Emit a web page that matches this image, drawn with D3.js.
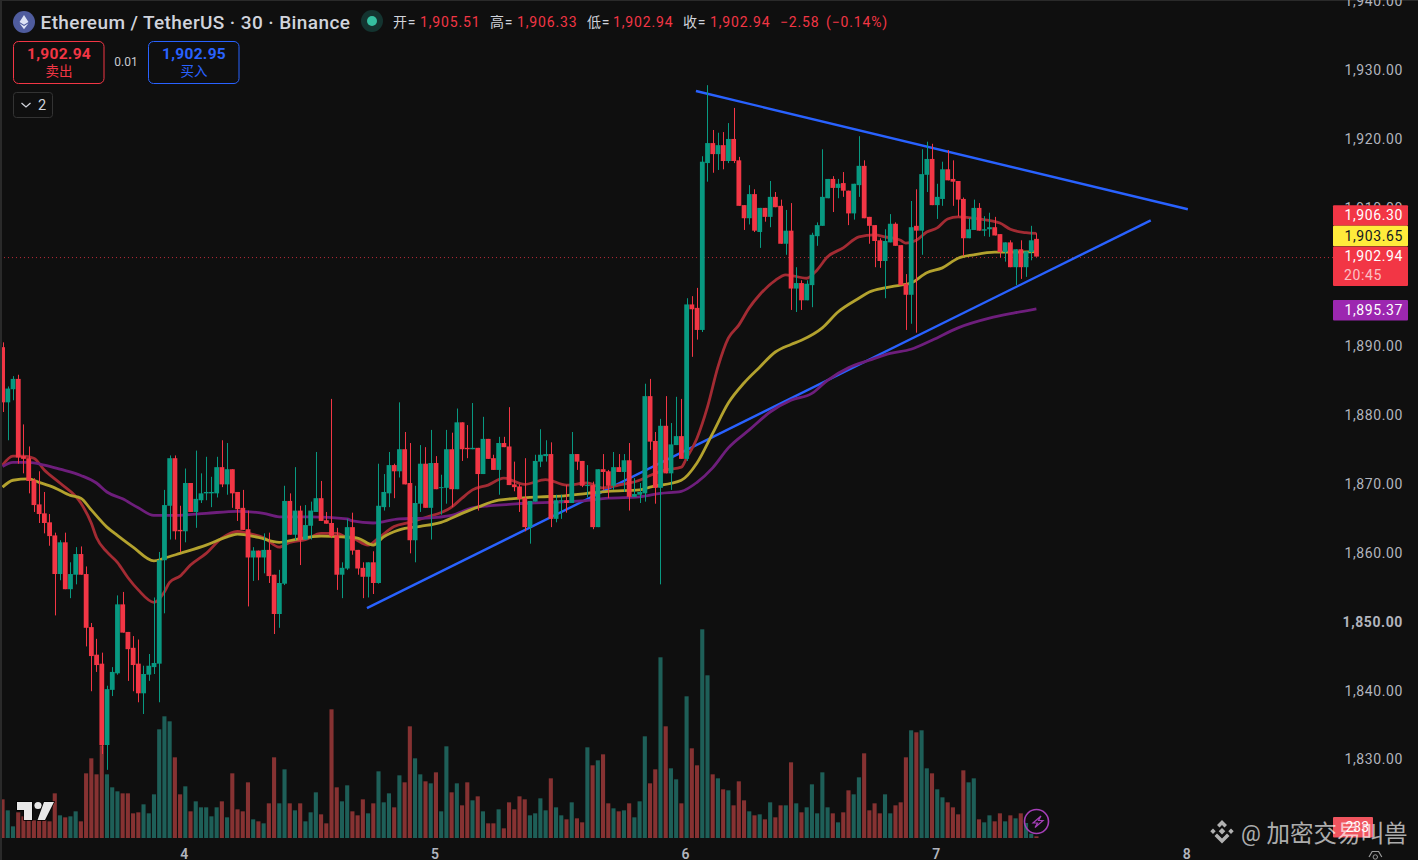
<!DOCTYPE html>
<html><head><meta charset="utf-8">
<script src="https://cdnjs.cloudflare.com/ajax/libs/d3/7.8.5/d3.min.js"></script>
<style>
html,body{margin:0;padding:0;background:#0f0f0f;overflow:hidden}
svg{display:block}
text{font-family:Roboto,"Noto Sans CJK SC",sans-serif}
</style></head><body><svg id="c" width="1418" height="860"></svg>
<script>
const opens=[1889.8,1881.8,1883.7,1885.2,1874.0,1873.7,1870.5,1867.0,1865.7,1864.4,
1862.5,1856.9,1861.5,1854.7,1856.8,1859.8,1856.9,1849.2,1845.2,1843.9,
1832.1,1840.1,1842.5,1852.5,1848.5,1846.2,1843.9,1839.6,1842.3,1843.4,
1843.9,1858.9,1866.8,1873.7,1863.3,1863.1,1870.1,1865.9,1867.6,1868.6,
1868.6,1868.6,1872.4,1869.9,1872.1,1868.8,1866.5,1863.4,1859.3,1860.3,
1859.3,1860.4,1856.8,1851.1,1855.5,1867.5,1862.6,1866.1,1861.9,1863.9,
1865.9,1867.9,1864.7,1864.3,1862.5,1856.8,1857.7,1863.7,1860.4,1857.8,
1856.5,1858.6,1855.6,1866.6,1868.6,1872.7,1871.8,1875.0,1870.1,1861.8,
1867.1,1872.9,1866.5,1873.0,1869.4,1869.4,1875.0,1869.2,1878.9,1875.2,
1875.0,1875.2,1871.4,1876.5,1873.7,1872.0,1875.9,1875.4,1869.9,1869.6,
1867.9,1863.7,1867.4,1873.2,1874.0,1874.3,1864.9,1867.5,1867.6,1867.2,
1874.3,1873.3,1869.7,1869.8,1863.7,1872.1,1871.8,1869.7,1872.4,1871.7,
1873.4,1868.1,1868.4,1868.6,1882.7,1876.2,1869.4,1878.4,1871.5,1875.6,
1876.9,1873.6,1896.0,1895.5,1892.3,1916.5,1919.4,1917.8,1919.1,1916.8,
1920.0,1916.9,1910.4,1908.5,1912.0,1906.5,1910.0,1908.7,1911.6,1910.3,
1904.8,1906.7,1898.3,1899.1,1896.6,1898.8,1905.9,1907.4,1911.4,1914.2,
1912.9,1913.6,1912.5,1909.2,1913.3,1916.1,1908.7,1907.5,1905.3,1902.3,
1905.0,1907.7,1904.6,1899.0,1897.4,1907.4,1906.7,1914.8,1917.1,1910.4,
1911.3,1915.6,1914.2,1913.9,1911.3,1905.6,1906.8,1910.0,1906.7,1906.9,
1907.2,1906.2,1903.6,1905.0,1901.4,1904.0,1901.4,1903.6,1905.51];
const closes=[1881.8,1883.8,1885.2,1873.8,1873.6,1870.4,1866.9,1865.6,1864.3,1862.4,
1856.9,1861.5,1854.7,1856.9,1859.8,1856.8,1849.1,1845.0,1843.7,1832.1,
1840.2,1842.7,1852.5,1848.4,1846.0,1843.7,1839.6,1842.4,1843.6,1844.0,
1858.9,1866.9,1873.7,1863.1,1863.1,1870.1,1865.9,1867.8,1868.6,1868.8,
1868.8,1872.4,1869.9,1872.1,1868.6,1866.3,1863.3,1859.3,1860.3,1859.3,
1860.4,1856.6,1851.1,1855.6,1867.5,1862.6,1866.1,1861.8,1864.0,1866.1,
1867.9,1864.6,1864.2,1862.4,1856.8,1857.8,1863.7,1860.3,1857.7,1856.5,
1858.6,1855.6,1866.8,1868.8,1872.7,1871.8,1875.0,1869.9,1861.8,1867.2,
1872.9,1866.5,1873.0,1869.2,1869.5,1875.0,1869.2,1878.9,1875.0,1875.0,
1875.2,1871.4,1876.5,1873.6,1872.0,1875.9,1875.3,1869.8,1869.5,1867.8,
1863.7,1867.5,1873.3,1874.2,1874.3,1864.9,1867.6,1867.6,1867.2,1874.3,
1873.2,1869.7,1869.8,1863.7,1872.1,1871.7,1869.7,1872.4,1871.7,1873.4,
1868.1,1868.5,1868.8,1882.7,1876.1,1869.4,1878.4,1871.5,1875.7,1876.9,
1873.6,1896.0,1895.3,1892.3,1916.7,1919.4,1917.8,1919.1,1916.8,1920.0,
1916.8,1910.3,1908.5,1912.0,1906.7,1910.0,1908.7,1911.6,1910.1,1904.8,
1906.7,1898.3,1899.1,1896.6,1899.0,1906.1,1907.5,1911.6,1914.2,1912.9,
1913.5,1912.5,1909.2,1913.5,1916.1,1908.5,1907.4,1905.2,1902.3,1905.2,
1907.7,1904.5,1898.8,1897.4,1907.2,1906.7,1914.9,1917.1,1910.4,1911.6,
1915.6,1914.0,1913.8,1911.2,1905.6,1906.9,1910.0,1906.7,1906.9,1907.2,
1906.0,1903.6,1905.0,1901.4,1904.0,1901.4,1903.7,1905.3,1902.94];
const highs=[1890.5,1884.1,1885.6,1885.8,1878.6,1875.4,1870.8,1871.8,1868.8,1865.6,
1862.9,1861.8,1862.9,1858.6,1860.8,1860.9,1858.0,1849.8,1847.5,1845.5,
1840.7,1843.4,1853.8,1854.3,1848.5,1847.9,1847.4,1843.6,1845.3,1853.5,
1860.1,1869.1,1874.1,1874.1,1866.8,1872.2,1870.1,1874.8,1871.5,1873.9,
1871.0,1873.9,1876.3,1875.9,1872.1,1868.8,1869.1,1866.1,1860.8,1860.3,
1862.8,1862.9,1856.8,1857.5,1869.7,1868.6,1872.4,1866.8,1866.9,1867.4,
1874.6,1870.4,1865.9,1882.3,1863.6,1858.6,1864.9,1865.8,1860.4,1858.6,
1858.6,1860.2,1872.9,1871.4,1874.6,1872.9,1881.8,1877.5,1875.9,1869.7,
1875.6,1875.3,1877.8,1874.0,1871.3,1877.8,1877.4,1880.9,1878.9,1878.5,
1881.7,1875.2,1879.7,1876.5,1874.2,1876.8,1876.8,1881.1,1873.2,1869.9,
1873.7,1867.5,1874.2,1877.9,1876.3,1876.0,1868.4,1868.4,1869.8,1877.5,
1874.3,1873.3,1872.7,1870.3,1872.1,1874.3,1872.0,1874.6,1874.3,1874.3,
1875.9,1870.8,1870.1,1884.5,1885.2,1877.5,1879.4,1882.7,1878.8,1882.6,
1882.3,1896.9,1897.2,1898.4,1917.5,1927.8,1921.3,1920.9,1921.0,1922.3,
1924.5,1917.4,1910.4,1913.3,1912.7,1910.0,1910.0,1913.9,1912.3,1911.2,
1909.7,1910.7,1901.4,1899.5,1899.5,1906.4,1907.9,1918.5,1914.2,1914.6,
1914.2,1915.2,1912.5,1913.5,1920.4,1916.9,1908.7,1907.5,1905.6,1906.9,
1909.1,1907.9,1904.6,1900.4,1911.0,1912.7,1918.5,1919.6,1919.3,1913.5,
1916.7,1918.4,1916.9,1913.9,1911.5,1908.5,1911.2,1910.7,1908.8,1909.3,
1908.7,1906.2,1905.0,1905.3,1904.0,1905.3,1903.7,1907.4,1906.33];
const lows=[1880.4,1876.3,1882.1,1872.9,1871.5,1868.6,1865.9,1864.3,1862.8,1861.0,
1850.9,1856.0,1854.7,1853.4,1855.4,1856.8,1846.4,1839.9,1842.7,1830.8,
1828.5,1839.2,1842.3,1848.4,1841.4,1839.9,1838.3,1836.6,1841.4,1842.4,
1838.3,1851.2,1861.9,1861.9,1860.1,1861.5,1865.9,1863.6,1867.2,1867.6,
1866.6,1868.0,1869.5,1868.4,1866.5,1864.6,1863.3,1852.2,1855.9,1856.0,
1857.0,1855.6,1848.2,1849.1,1855.3,1862.6,1861.8,1858.2,1861.9,1861.9,
1865.9,1864.6,1864.2,1862.1,1854.6,1853.4,1857.5,1859.7,1856.8,1853.4,
1853.5,1854.0,1855.5,1866.1,1866.6,1867.9,1870.9,1869.9,1859.9,1858.6,
1865.9,1866.5,1861.9,1869.2,1865.5,1867.1,1866.6,1869.2,1873.3,1873.7,
1875.0,1866.1,1871.4,1873.6,1872.0,1868.4,1875.3,1869.8,1868.9,1865.9,
1863.1,1861.3,1867.4,1872.4,1873.2,1863.7,1864.4,1864.9,1865.8,1867.2,
1872.0,1869.5,1868.0,1863.4,1863.7,1869.1,1867.9,1869.1,1871.7,1868.8,
1866.1,1868.1,1867.2,1867.4,1874.9,1867.1,1855.4,1871.5,1869.1,1875.6,
1873.6,1873.3,1888.4,1890.9,1892.0,1913.8,1915.1,1915.5,1915.6,1916.5,
1916.5,1910.3,1906.8,1907.6,1906.5,1904.2,1908.0,1907.2,1910.1,1904.8,
1903.2,1895.2,1894.9,1895.2,1896.6,1895.6,1904.5,1907.4,1911.4,1909.4,
1911.4,1911.6,1907.5,1908.3,1911.6,1908.5,1904.8,1901.4,1901.3,1896.9,
1905.0,1904.5,1898.8,1892.3,1893.2,1891.9,1903.2,1912.3,1910.4,1908.4,
1910.3,1914.0,1910.3,1908.8,1903.0,1905.6,1906.8,1906.7,1905.9,1905.8,
1906.0,1902.8,1902.2,1901.4,1898.8,1899.7,1900.0,1902.4,1902.94];
const volumes=[116,83,35,77,65,53,53,53,53,50,134,68,62,65,80,50,194,239,191,278,
191,152,140,134,134,74,77,101,74,131,326,365,350,242,131,155,80,110,92,92,
65,92,110,62,194,86,80,167,56,50,44,104,242,104,206,104,83,104,50,77,
137,71,44,386,152,110,158,80,68,116,74,104,200,107,134,92,188,167,335,239,
191,170,164,197,80,275,137,164,98,167,113,125,80,44,44,86,29,107,86,125,
116,68,74,119,83,179,92,68,56,107,59,47,272,218,233,251,104,89,80,83,
104,62,110,305,164,206,542,335,209,176,104,425,269,218,626,488,191,179,146,143,
98,170,113,80,68,71,56,107,62,98,98,227,104,77,92,161,74,197,92,74,
47,77,143,131,182,254,83,104,74,131,74,98,107,242,323,317,323,209,194,146,
122,107,92,71,203,167,179,56,47,68,50,74,50,68,59,74,45,13,5];

const fastIdx=[0,2,4,6,8,11,15,17,18,20,22,24,26,29,31,32,34,36,39,42,45,47,50,53,55,58,61,64,66,67,70,72,75,78,81,86,88,90,93,96,100,104,108,112,115,118,122,124,127,130,131,133,135,137,139,141,143,145,148,150,154,156,158,161,164,167,169,172,173,175,177,179,181,183,187,191,193,196,198];
const fastMA=[1872.7,1874.0,1874.0,1873.7,1872.0,1870.1,1867.2,1864.3,1862.2,1860.1,1858.6,1856.4,1854.6,1852.8,1854.3,1855.7,1856.6,1858.2,1859.9,1862.1,1863.1,1862.8,1862.2,1860.8,1861.5,1861.9,1862.8,1862.8,1862.2,1862.1,1861.1,1862.1,1863.8,1864.4,1865.1,1866.6,1867.9,1869.1,1869.8,1870.8,1869.9,1870.6,1869.8,1870.1,1869.4,1869.8,1870.5,1871.2,1872.0,1872.4,1873.7,1876.6,1881.1,1886.9,1891.1,1893.0,1895.5,1897.4,1899.5,1900.3,1899.8,1901.0,1902.9,1904.2,1905.8,1906.1,1905.8,1905.3,1904.9,1905.3,1906.5,1907.1,1908.4,1908.7,1908.4,1907.8,1906.9,1906.4,1906.30];
const midIdx=[0,2,5,7,10,13,15,17,20,22,25,29,31,34,39,43,45,49,53,56,61,65,68,71,73,76,80,84,88,91,95,99,103,107,112,116,122,124,130,133,136,139,142,145,148,151,153,157,160,164,166,169,172,174,177,180,183,186,190,194,198];
const midMA=[1869.5,1870.5,1870.7,1870.2,1869.4,1868.3,1867.9,1866.2,1863.7,1862.5,1860.8,1858.8,1859.2,1859.9,1861.1,1862.3,1862.7,1862.2,1861.5,1861.9,1862.4,1862.3,1862.1,1861.1,1862.3,1863.3,1863.8,1864.4,1865.7,1866.6,1867.6,1867.9,1868.1,1868.2,1868.6,1868.9,1869.1,1869.5,1870.5,1873.0,1877.3,1881.7,1884.6,1886.9,1889.1,1890.2,1890.8,1892.6,1894.9,1896.9,1897.8,1898.4,1898.8,1899.1,1900.6,1901.3,1902.7,1903.2,1903.6,1903.6,1903.65];
const slowIdx=[0,2,5,8,11,15,18,20,23,26,29,33,39,45,50,53,59,66,67,71,76,81,86,90,93,97,101,105,111,116,122,126,130,133,136,139,143,147,151,155,158,162,166,170,174,178,183,189,194,198];
const slowMA=[1872.5,1873.1,1873.1,1872.7,1872.1,1871.2,1870.1,1868.8,1867.8,1866.5,1865.4,1865.4,1865.7,1866.0,1865.7,1865.2,1865.2,1864.9,1864.6,1864.3,1864.9,1865.0,1865.4,1866.5,1866.8,1867.0,1867.2,1867.3,1867.5,1867.9,1868.1,1868.6,1868.9,1870.2,1872.3,1875.2,1877.8,1880.4,1882.1,1883.1,1885.0,1886.8,1887.9,1888.9,1889.5,1890.8,1892.6,1894.0,1894.8,1895.37];

const upperTrendIdx=[132.8,227.0], upperTrendPrice=[1926.95,1909.8];
const lowerTrendIdx=[69.8,219.9], lowerTrendPrice=[1851.95,1908.2];

const priceTicks=[1830,1840,1850,1860,1870,1880,1890,1900,1910,1920,1930,1940];
const dayTickIdx=[35,83,131,179,227], dayTickLabels=["4","5","6","7","8"];
const priceTags=[{v:"1,906.30",mid:215.5,bg:"#F23645",fg:"#fff"},{v:"1,903.65",mid:236,bg:"#FFEB3B",fg:"#131722"},{v:"1,895.37",mid:310.3,bg:"#9C27B0",fg:"#fff"}];
const lastPrice=1902.94, countdown="20:45", volTag="233";
const ohlcBits=[["开=",393,"#D1D4DC"],["1,905.51",420,"#F23645"],["高=",490,"#D1D4DC"],["1,906.33",517,"#F23645"],["低=",587,"#D1D4DC"],["1,902.94",613,"#F23645"],["收=",683,"#D1D4DC"],["1,902.94",710,"#F23645"],["−2.58",780,"#F23645"],["(−0.14%)",826,"#F23645"]];

const UP="#089981",DOWN="#F23645",VUP="#1E5F58",VDN="#863232";
const svg=d3.select("#c");
const x=d3.scaleLinear().domain([0,198]).range([2.5,1036.4]);
const y=d3.scaleLinear().domain([1830,1930]).range([759.5,70]);
const vol=d3.scaleLinear().domain([0,626]).range([838,629.3]);
const bars=d3.range(opens.length);
const isUp=i=>closes[i]>=opens[i];

// volume
svg.append("g").selectAll("rect").data(bars).join("rect")
 .attr("x",i=>x(i)-2).attr("width",4.1)
 .attr("y",i=>vol(volumes[i])).attr("height",i=>vol(0)-vol(volumes[i]))
 .attr("fill",i=>isUp(i)?VUP:VDN);

// last price dotted line
svg.append("line").attr("x1",0).attr("x2",1333).attr("y1",y(lastPrice)+1).attr("y2",y(lastPrice)+1)
 .attr("stroke","#F23645").attr("stroke-opacity",.75).attr("stroke-dasharray","1 3");

// trend lines + MA
const tl=(a,b)=>svg.append("path").attr("fill","none").attr("stroke","#2962FF").attr("stroke-width",2.4)
 .attr("d",d3.line()(a.map((d,k)=>[x(d),y(b[k])])));
tl(upperTrendIdx,upperTrendPrice); tl(lowerTrendIdx,lowerTrendPrice);
const ma=(a,b,c)=>svg.append("path").attr("fill","none").attr("stroke",c).attr("stroke-width",2.8)
 .attr("stroke-linejoin","round")
 .attr("d",d3.line().x(d=>x(d[0])).y(d=>y(d[1])).curve(d3.curveMonotoneX)(a.map((d,k)=>[d,b[k]])));
ma(fastIdx,fastMA,"#A32B33"); ma(slowIdx,slowMA,"#6E1E7C"); ma(midIdx,midMA,"#B3A22E");

// candles
const cg=svg.append("g");
cg.selectAll("line").data(bars).join("line")
 .attr("x1",i=>Math.round(x(i))+.5).attr("x2",i=>Math.round(x(i))+.5)
 .attr("y1",i=>y(highs[i])).attr("y2",i=>y(lows[i]))
 .attr("stroke",i=>isUp(i)?UP:DOWN).attr("stroke-width",1);
cg.selectAll("rect").data(bars).join("rect")
 .attr("x",i=>x(i)-2.3).attr("width",4.8)
 .attr("y",i=>y(Math.max(opens[i],closes[i])))
 .attr("height",i=>Math.max(1,Math.abs(y(opens[i])-y(closes[i]))))
 .attr("fill",i=>isUp(i)?UP:DOWN);

// borders
svg.append("rect").attr("width",2).attr("height",860).attr("fill","#2a2a2a");
svg.append("rect").attr("width",1418).attr("height",1).attr("fill","#2a2a2a");

// axes
const ay=svg.append("g").attr("transform","translate(1403,0)")
 .call(d3.axisLeft(y).tickValues(priceTicks).tickFormat(d3.format(",.2f")).tickSize(0));
ay.select(".domain").remove();
ay.selectAll("text").attr("x",0).attr("font-size",14).attr("letter-spacing",.6).attr("fill","#B2B5BE")
 .attr("font-weight",d=>d===1850?700:400).style("font-family","Roboto");
const ax=svg.append("g").attr("transform","translate(-1.5,845)")
 .call(d3.axisBottom(x).tickValues(dayTickIdx).tickFormat((d,k)=>dayTickLabels[k]).tickSize(0));
ax.select(".domain").remove();
ax.selectAll("text").attr("y",0).attr("dy",14).attr("font-size",14).attr("font-weight",600).attr("fill","#B2B5BE").style("font-family","Roboto");

// tags
function tag(yTop,h,w,bg){svg.append("rect").attr("x",1333).attr("y",yTop).attr("width",w).attr("height",h).attr("rx",1).attr("fill",bg);}
function tagText(t,yMid,fg,op){svg.append("text").attr("x",1403).attr("y",yMid).attr("dy",".35em").attr("text-anchor","end").attr("font-size",14).attr("letter-spacing",.6).attr("fill",fg).attr("fill-opacity",op||1).text(t);}
priceTags.forEach(t=>{tag(t.mid-10.3,20.6,75,t.bg);tagText(t.v,t.mid,t.fg);});
tag(246.5,39.5,75,DOWN);
tagText(d3.format(",.2f")(lastPrice),y(lastPrice),"#fff");
svg.append("text").attr("x",1344).attr("y",275).attr("dy",".35em").attr("font-size",14).attr("letter-spacing",.6).attr("fill","#fff").attr("fill-opacity",.7).text(countdown);
tag(817,20.5,40,"#F0555F");
svg.append("text").attr("x",1369).attr("y",832).attr("text-anchor","end").attr("font-size",14).attr("fill","#fff").text(volTag);

// header
svg.append("circle").attr("cx",24).attr("cy",22).attr("r",11).attr("fill","#4F5C9E");
svg.append("path").attr("d","M24 15l4.5 7-4.5 2.8-4.5-2.8zM24 26l4.5-2.8-4.5 6-4.5-6z").attr("fill","#DDE3F5");
svg.append("text").attr("x",40.5).attr("y",28.5).attr("font-size",19).attr("font-weight",500).attr("letter-spacing",.4).attr("fill","#D1D4DC").text("Ethereum / TetherUS · 30 · Binance");
svg.append("circle").attr("cx",372).attr("cy",21).attr("r",11).attr("fill","#143430");
svg.append("circle").attr("cx",372).attr("cy",21).attr("r",5).attr("fill","#35BFA0");
ohlcBits.forEach(b=>svg.append("text").attr("x",b[1]).attr("y",27).attr("font-size",14).attr("letter-spacing",.85).attr("fill",b[2]).text(b[0]));

function box(x0,col,price,label){
 svg.append("rect").attr("x",x0+.5).attr("y",41.5).attr("width",90.5).attr("height",42).attr("rx",5).attr("fill","#0f0f0f").attr("stroke",col);
 svg.append("text").attr("x",x0+46).attr("y",59).attr("text-anchor","middle").attr("font-size",15.5).attr("font-weight",700).attr("letter-spacing",.3).attr("fill",col).text(price);
 svg.append("text").attr("x",x0+46).attr("y",76).attr("text-anchor","middle").attr("font-size",13.5).attr("fill",col).text(label);
}
box(13,"#F23645","1,902.94","卖出");
box(148,"#2962FF","1,902.95","买入");
svg.append("text").attr("x",126).attr("y",65.5).attr("text-anchor","middle").attr("font-size",12).attr("fill","#C8CAD0").text("0.01");
svg.append("rect").attr("x",13.5).attr("y",92.5).attr("width",39).attr("height",25).attr("rx",3).attr("fill","none").attr("stroke","#333");
svg.append("path").attr("d","M21.5 103l4.5 4 4.5-4").attr("fill","none").attr("stroke","#D1D4DC").attr("stroke-width",1.3);
svg.append("text").attr("x",38).attr("y",110).attr("font-size",14.5).attr("fill","#D1D4DC").text("2");

// TradingView mark
const logo=svg.append("g").attr("fill","#E8E8E8").attr("stroke","#000").attr("stroke-width",1.4).attr("paint-order","stroke");
logo.append("path").attr("d","M17 802H32V820H24V810H17Z");
logo.append("circle").attr("cx",38).attr("cy",805.5).attr("r",3.6).attr("stroke","none");
logo.append("path").attr("d","M44 802H54L45 820H37.5Z");

// lightning circle
svg.append("circle").attr("cx",1036.5).attr("cy",821.5).attr("r",12).attr("fill","none").attr("stroke","#A63FB8").attr("stroke-width",1.6);
svg.append("path").attr("d","M1041 816l-8 7h4.5l-2.5 4.5 8-7h-4.5z").attr("fill","none").attr("stroke","#A63FB8").attr("stroke-width",1.2);

// settings hexagon
svg.append("path").attr("d","M1369 857l3.2-5.5h6.4l3.2 5.5").attr("fill","none").attr("stroke","#9a9a9a").attr("stroke-width",1.2);
svg.append("circle").attr("cx",1375.3).attr("cy",857).attr("r",2.2).attr("fill","none").attr("stroke","#9a9a9a");

// watermark
const wm=svg.append("g").attr("fill","#fff").attr("fill-opacity",.68);
wm.append("path").attr("d","M1222 820l5 5-2.5 2.5-2.5-2.5-2.5 2.5-2.5-2.5zM1213 828.5l2.7 2.7-2.7 2.7-2.7-2.7zM1231 828.5l2.7 2.7-2.7 2.7-2.7-2.7zM1222 828l3.3 3.3-3.3 3.3-3.3-3.3zM1214.5 836l2.5-2.5 5 5 5-5 2.5 2.5-7.5 7.5z");
wm.append("text").attr("x",1241).attr("y",841).attr("font-size",22).text("@");
wm.append("text").attr("x",1266.5).attr("y",842).attr("font-size",23.5).style("font-family","'Noto Sans CJK SC'").text("加密交易叫兽");
</script></body></html>
